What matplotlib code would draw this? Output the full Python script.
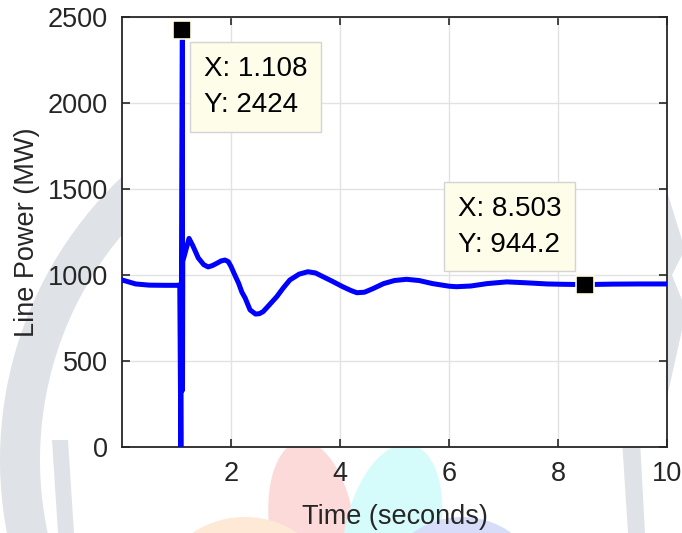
import matplotlib
matplotlib.use("Agg")
import matplotlib.pyplot as plt
from matplotlib.patches import Ellipse, Polygon, Wedge

plt.rcParams['font.family'] = ['Liberation Sans', 'DejaVu Sans']

# line power trace
time = [0, 0.1, 0.25, 0.5, 0.8, 1.0, 1.06, 1.08, 1.108, 1.11, 1.115,
        1.15, 1.23, 1.3, 1.4, 1.5, 1.58, 1.66, 1.74, 1.82, 1.89, 1.95,
        2.0, 2.07, 2.14, 2.2, 2.26, 2.35, 2.45, 2.52, 2.59, 2.7, 2.84,
        2.96, 3.08, 3.25, 3.41, 3.55, 3.69, 3.85, 4.05, 4.2, 4.31, 4.45,
        4.6, 4.8, 5.0, 5.22, 5.45, 5.7, 6.0, 6.14, 6.4, 6.7, 7.06, 7.4,
        7.8, 8.09, 8.503, 9.0, 9.5, 10]
power = [971, 962, 948, 941, 940, 940, 942, 0, 2424, 330, 1080,
         1120, 1213, 1170, 1099, 1060, 1047, 1055, 1068, 1082, 1087, 1078,
         1050, 1000, 952, 900, 866, 797, 773, 775, 787, 825, 874,
         925, 971, 1005, 1019, 1012, 990, 965, 932, 910, 897, 900,
         920, 950, 968, 975, 968, 950, 935, 932, 936, 950, 960, 955,
         948, 946, 944.2, 947, 948, 948]

# data tips
tip_x = [1.108, 8.503]
tip_y = [2424, 944.2]
tip_text = ["X: 1.108\nY: 2424", "X: 8.503\nY: 944.2"]
tip_pos = [(1.5, 2275), (6.16, 1462)]

xticks = [2, 4, 6, 8, 10]
yticks = [0, 500, 1000, 1500, 2000, 2500]

fig = plt.figure(figsize=(6.82, 5.33), dpi=100)

# faint watermark behind everything, in pixel coords (y pointing down)
bg = fig.add_axes([0, 0, 1, 1], zorder=-1)
bg.set_xlim(0, 682)
bg.set_ylim(533, 0)
bg.axis('off')
gray = '#dfe3e7'
bg.add_patch(Wedge((390, 460), 390, 165, 228, width=40, color=gray, lw=0))
bg.add_patch(Polygon([(662, 175), (682, 240), (682, 255), (672, 275),
                      (682, 300), (682, 330), (662, 420)], color=gray, lw=0))
bg.add_patch(Polygon([(622, 440), (640, 440), (645, 533), (628, 533)],
                     color=gray, lw=0))
bg.add_patch(Polygon([(52, 440), (68, 440), (74, 533), (58, 533)],
                     color=gray, lw=0))
bg.add_patch(Ellipse((312, 528), 85, 175, angle=-8, color='#fddada', lw=0))
bg.add_patch(Ellipse((392, 535), 95, 185, angle=12, color='#d6fbfb', lw=0))
bg.add_patch(Ellipse((245, 592), 170, 150, color='#fde9d6', lw=0))
bg.add_patch(Ellipse((462, 592), 160, 150, color='#d7ddf8', lw=0))

ax = fig.add_axes([0.1789, 0.1614, 0.799, 0.8066])
ax.set_facecolor('white')
ax.plot(time, power, color='#0000ff', lw=3.6, solid_joinstyle='round', zorder=3)
ax.plot(tip_x, tip_y, 's', ms=13, color='black', mec='#fffde0', mew=1.2,
        zorder=4)
for (tx, ty), s in zip(tip_pos, tip_text):
    ax.text(tx, ty, s, ha='left', va='top', fontsize=20, color='black',
            linespacing=1.5, zorder=5,
            bbox=dict(boxstyle='square,pad=0.5', fc='#fdfdea',
                      ec='#d4d4d4', lw=1))

ax.set_xlim(0, 10)
ax.set_ylim(0, 2500)
ax.set_xticks(xticks)
ax.set_yticks(yticks)
ax.grid(True, color='#e2e2e2', lw=1)
ax.set_axisbelow(True)
ax.tick_params(direction='in', length=6, width=1.2, top=True, right=True,
               labelsize=19.5, colors='#262626', pad=10)
for sp in ax.spines.values():
    sp.set_color('#262626')
    sp.set_linewidth(1.3)
ax.set_xlabel('Time (seconds)', fontsize=19.5, color='#262626', labelpad=12)
ax.set_ylabel('Line Power (MW)', fontsize=19.5, color='#262626', labelpad=6)

fig.savefig('out.png', dpi=100)
